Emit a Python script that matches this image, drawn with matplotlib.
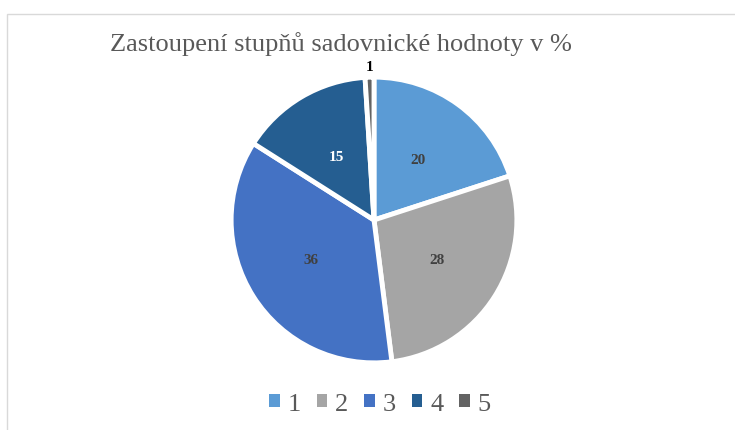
import numpy as np
import matplotlib.pyplot as plt
from matplotlib.patches import Patch, Rectangle

# data
categories = ['1', '2', '3', '4', '5']
values = [20, 28, 36, 15, 1]
colors = ['#5B9BD5', '#A5A5A5', '#4472C4', '#255E91', '#636363']
label_colors = ['#404040', '#404040', '#404040', 'white', 'black']

plt.rcParams['font.family'] = ['Liberation Serif', 'DejaVu Serif']

fig = plt.figure(figsize=(7.35, 4.31), dpi=100)

# light border of the chart area
fig.patches.append(Rectangle((7 / 735, -0.01), 1.0, 1 - 15 / 431 + 0.01,
                             transform=fig.transFigure, fill=False,
                             edgecolor='#D9D9D9', linewidth=1))

ax = fig.add_axes([224 / 735, 60 / 431, 300 / 735, 300 / 431])
wedges, texts, autotexts = ax.pie(
    values, colors=colors, startangle=90, counterclock=False,
    autopct=lambda p: f'{p:.0f}', pctdistance=0.52,
    wedgeprops=dict(edgecolor='white', linewidth=3.5))
ax.set_xlim(-1.05, 1.05)
ax.set_ylim(-1.05, 1.05)
ax.set_aspect('equal')
ax.axis('off')

for t, c in zip(autotexts, label_colors):
    t.set_color(c)
    t.set_fontweight('bold')
    t.set_fontsize(11)

# smallest slice gets its label outside
w = wedges[-1]
ang = np.deg2rad((w.theta1 + w.theta2) / 2)
autotexts[-1].set_position((1.03 * np.cos(ang), 1.03 * np.sin(ang)))
autotexts[-1].set_va('bottom')

fig.text(110 / 735, 1 - 44 / 431, 'Zastoupení stupňů sadovnické hodnoty v %',
         fontsize=19, color='#595959', va='center', ha='left')

handles = [Patch(facecolor=c, edgecolor='none') for c in colors]
fig.legend(handles, categories, loc='center', bbox_to_anchor=(380 / 735, 1 - 405 / 431),
           ncol=5, frameon=False, fontsize=19, handlelength=0.4, handleheight=0.4,
           handletextpad=0.3, columnspacing=0.6, labelcolor='#595959')

fig.savefig('out.png', dpi=100)
